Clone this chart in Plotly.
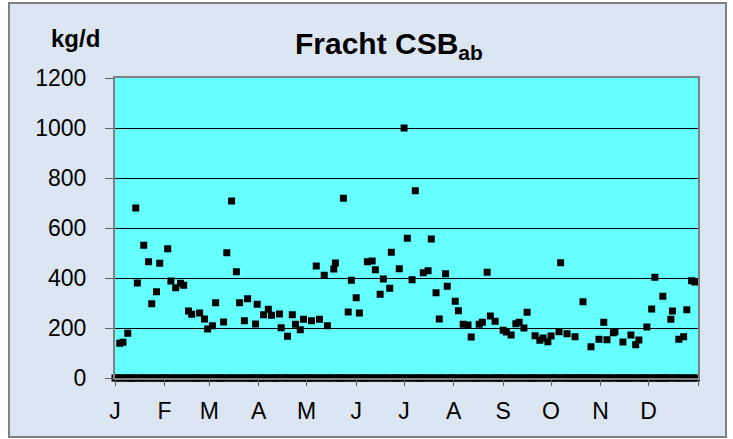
import plotly.graph_objects as go

# ---- data (day of year offset from 1 Jan, value in kg/d) ----
days = [3, 5, 8, 13, 14, 18, 21, 23, 26, 28, 33, 35, 38, 41, 43, 46, 48, 53, 56, 58,
        61, 63, 68, 70, 73, 76, 78, 81, 83, 88, 89, 93, 96, 98, 103, 104, 108, 111, 113, 116,
        118, 123, 126, 128, 131, 133, 137, 138, 143, 146, 148, 151, 153, 158, 161, 163, 166, 168, 172, 173,
        178, 181, 183, 186, 188, 193, 196, 198, 201, 203, 207, 208, 213, 215, 218, 221, 223, 228, 230, 233,
        235, 238, 243, 245, 248, 251, 253, 256, 258, 263, 266, 268, 271, 273, 278, 279, 283, 288, 293, 298,
        303, 306, 308, 312, 313, 318, 323, 326, 328, 333, 336, 338, 343, 348, 349, 353, 356, 358, 361, 363]
values = [139, 143, 179, 680, 380, 531, 465, 297, 345, 459, 517, 388, 361, 379, 371, 268, 255, 260, 236, 196,
          209, 301, 224, 501, 708, 425, 301, 229, 317, 216, 295, 253, 275, 251, 256, 201, 167, 253, 215, 193,
          235, 229, 448, 235, 411, 209, 436, 460, 719, 264, 391, 321, 260, 465, 468, 433, 335, 396, 359, 503,
          437, 1000, 559, 393, 749, 421, 429, 556, 341, 236, 417, 367, 307, 269, 215, 212, 164, 215, 223, 423,
          248, 227, 191, 184, 172, 217, 223, 200, 263, 169, 151, 160, 145, 168, 185, 461, 177, 165, 305, 125,
          155, 223, 153, 181, 185, 144, 172, 133, 152, 204, 276, 403, 327, 235, 268, 155, 165, 273, 389, 384]
days_in_year = 365
month_starts = [0, 31, 59, 90, 120, 151, 181, 212, 243, 273, 304, 334]
month_labels = ["J", "F", "M", "A", "M", "J", "J", "A", "S", "O", "N", "D"]
y_ticks = [0, 200, 400, 600, 800, 1000, 1200]

measured = set(days)
zero_days = [d for d in range(days_in_year) if d not in measured]
zero_vals = [0 for _ in zero_days]

# ---- layout geometry (pixels) ----
FW, FH = 733, 439
L, R, T, B = 115, 698, 78, 378
PW, PH = R - L, B - T

def px(x):
    return (x - L) / PW

def py(y):
    return (B - y) / PH

FONT = "Liberation Sans, Arial, sans-serif"

fig = go.Figure()
fig.add_trace(go.Scatter(x=zero_days, y=zero_vals, mode="markers",
                         marker=dict(symbol="square", size=7, color="black"),
                         cliponaxis=False, showlegend=False, hoverinfo="skip"))
fig.add_trace(go.Scatter(x=days, y=values, mode="markers",
                         marker=dict(symbol="square", size=7, color="black"),
                         cliponaxis=False, showlegend=False))

fig.update_layout(
    width=FW, height=FH, autosize=False,
    margin=dict(l=L, r=FW - R, t=T, b=FH - B, pad=0),
    paper_bgcolor="#DCE6F2",
    plot_bgcolor="#66FFFF",
    font=dict(family=FONT, color="black"),
    xaxis=dict(range=[0, days_in_year], tickmode="array", tickvals=month_starts, ticktext=month_labels,
               ticks="outside", ticklen=6, tickcolor="#606060", tickwidth=1,
               minor=dict(tickmode="array", tickvals=[days_in_year], ticks="outside", ticklen=6,
                          tickcolor="#606060", tickwidth=1, showgrid=False),
               showgrid=False, zeroline=False, showline=True, mirror=True,
               linecolor="#808080", linewidth=2,
               tickfont=dict(size=23, family=FONT, color="black"), ticklabelstandoff=5),
    yaxis=dict(range=[0, 1200], tickmode="array", tickvals=y_ticks,
               ticks="outside", ticklen=8, tickcolor="#606060", tickwidth=1,
               showgrid=True, gridcolor="black", gridwidth=1, zeroline=False,
               showline=True, mirror=True, linecolor="#808080", linewidth=2,
               tickfont=dict(size=23, family=FONT, color="black"), ticklabelstandoff=14),
    shapes=[
        dict(type="rect", xref="paper", yref="paper", x0=px(0), x1=px(9), y0=py(FH), y1=py(0),
             fillcolor="white", line=dict(width=0), layer="below"),
        dict(type="rect", xref="paper", yref="paper", x0=px(726), x1=px(FW), y0=py(FH), y1=py(0),
             fillcolor="white", line=dict(width=0), layer="below"),
        dict(type="rect", xref="paper", yref="paper", x0=px(0), x1=px(FW), y0=py(3), y1=py(0),
             fillcolor="white", line=dict(width=0), layer="below"),
        dict(type="rect", xref="paper", yref="paper", x0=px(0), x1=px(FW), y0=py(FH), y1=py(437),
             fillcolor="white", line=dict(width=0), layer="below"),
        dict(type="rect", xref="paper", yref="paper", x0=px(9), x1=px(726), y0=py(437), y1=py(3),
             line=dict(color="#808080", width=2), fillcolor="rgba(0,0,0,0)", layer="below"),
    ],
    annotations=[
        dict(text="<b>kg/d</b>", xref="paper", yref="paper", x=px(75), y=py(38),
             xanchor="center", yanchor="middle", showarrow=False,
             font=dict(size=24, family=FONT, color="black")),
        dict(text="<b>Fracht CSB<sub>ab</sub></b>", xref="paper", yref="paper", x=px(389), y=py(46),
             xanchor="center", yanchor="middle", showarrow=False,
             font=dict(size=30, family=FONT, color="black")),
    ],
)

fig.write_html("out.html", config={"displayModeBar": False},
               post_script="document.body.style.margin='0';document.body.style.padding='0';"
                           "document.body.style.overflow='hidden';")
